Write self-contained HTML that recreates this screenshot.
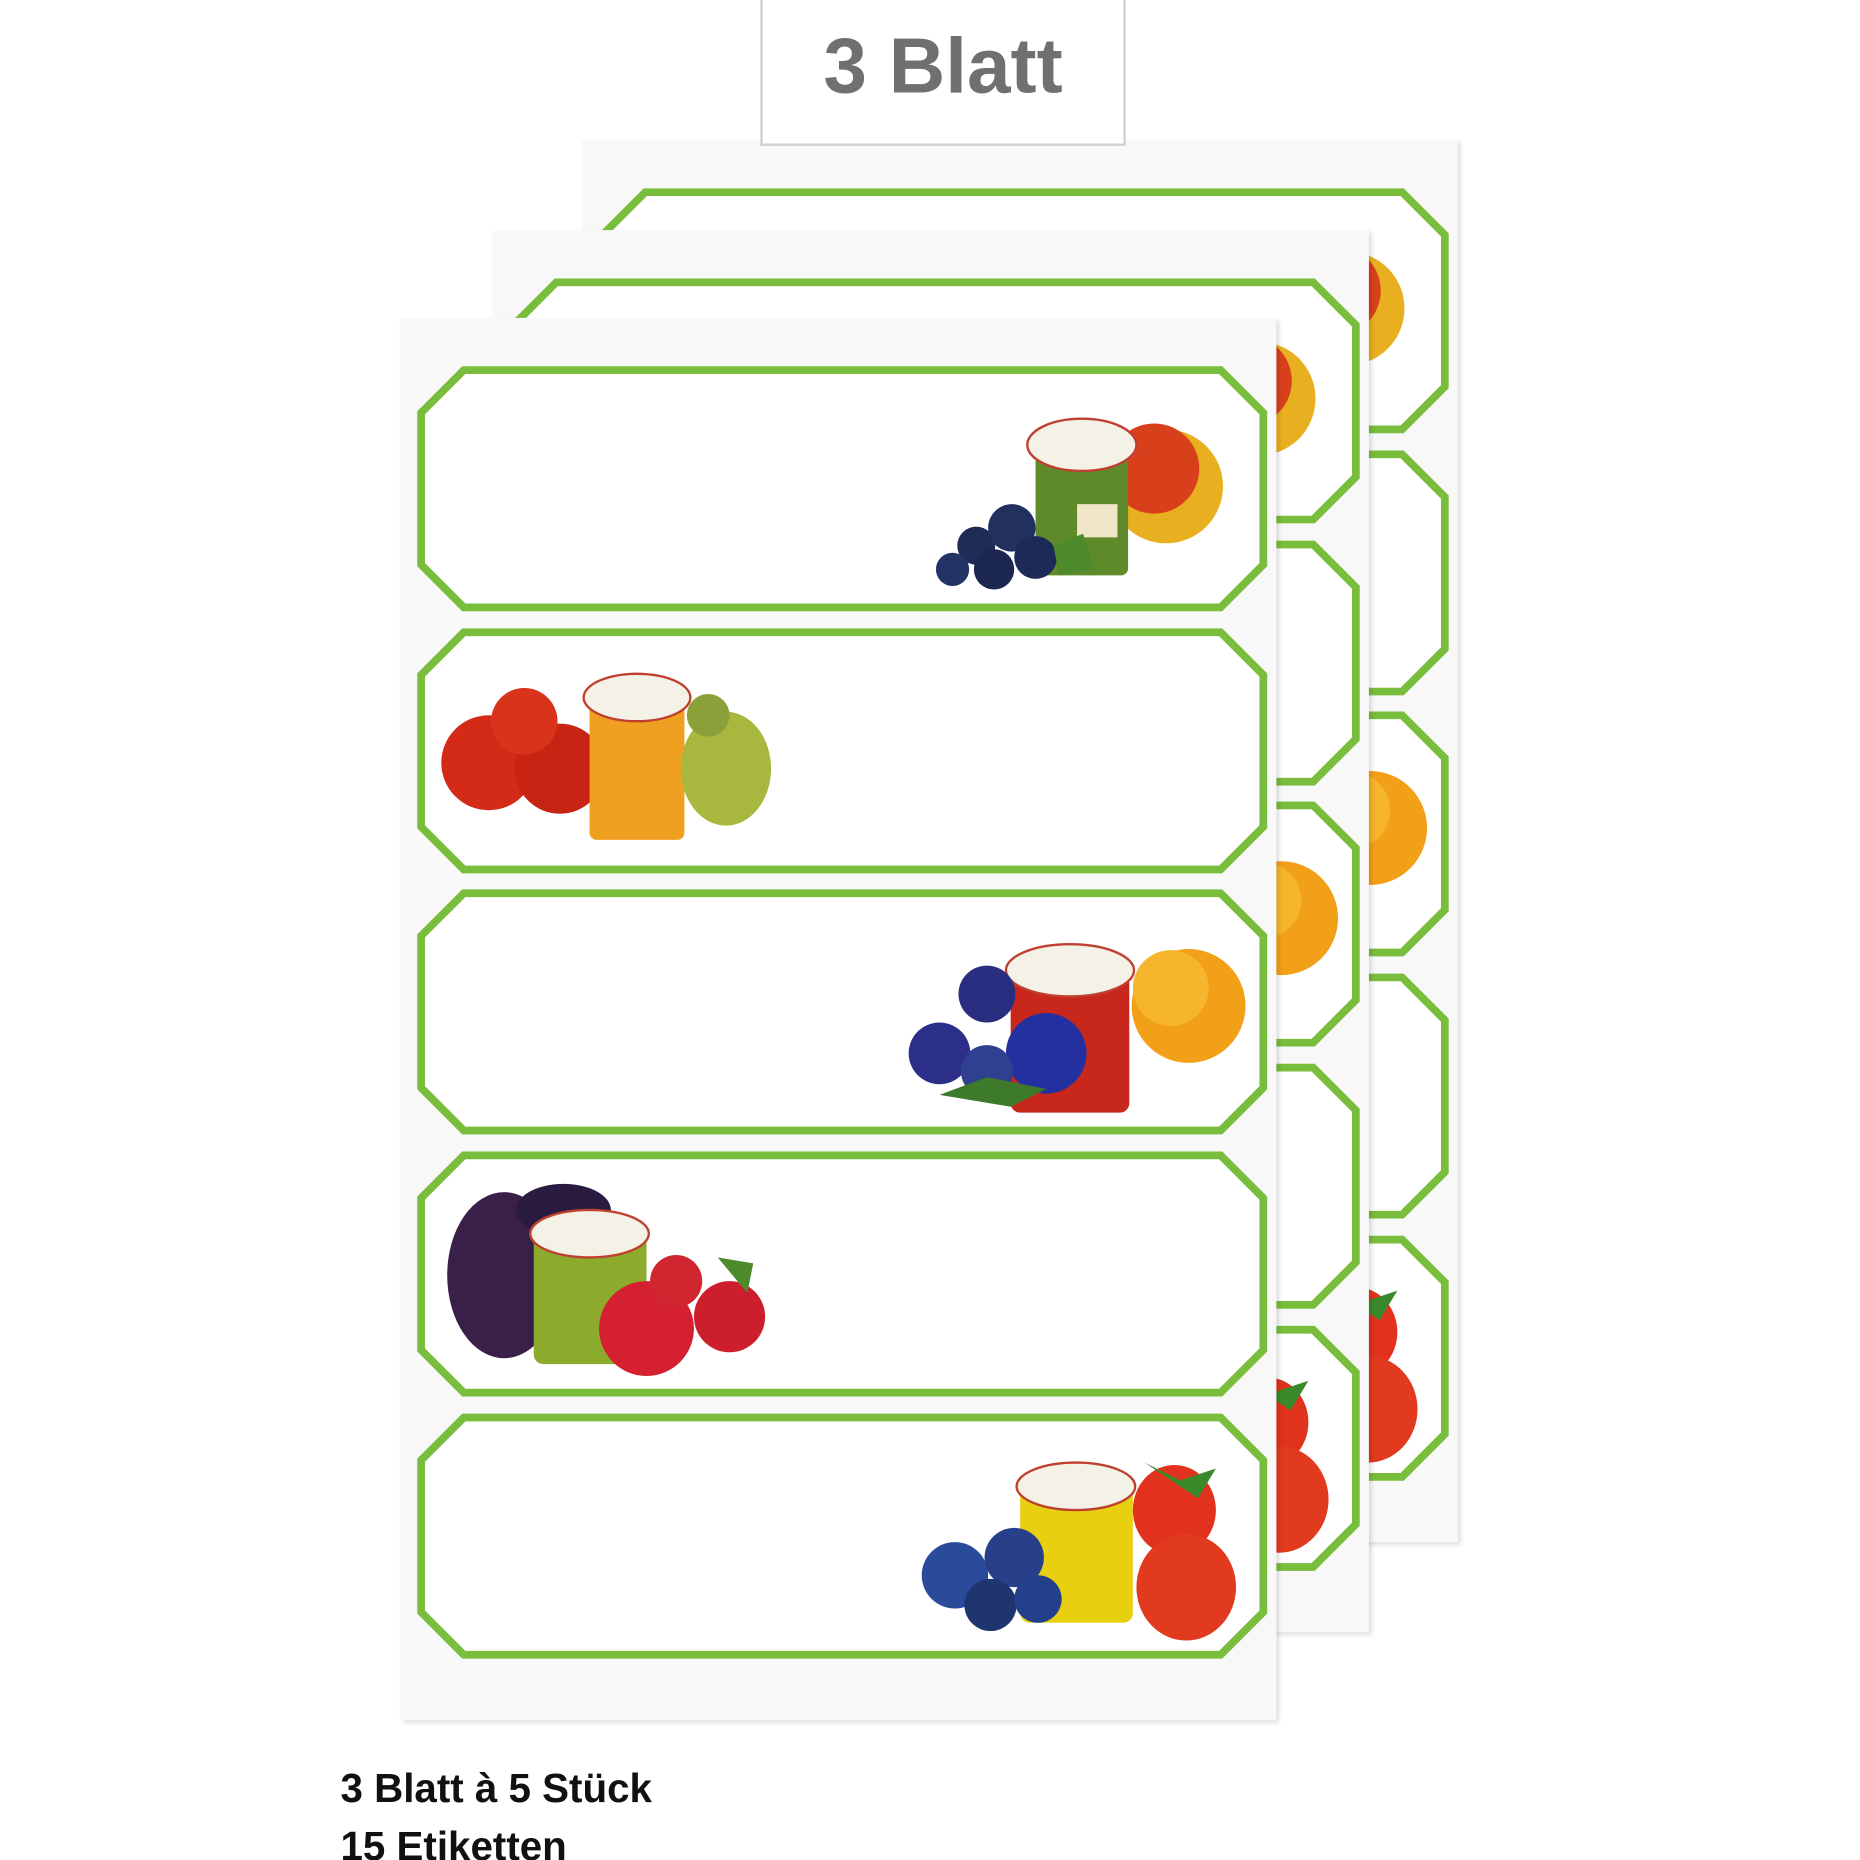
<!DOCTYPE html>
<html><head><meta charset="utf-8"><style>
html,body{margin:0;padding:0;background:#fff;width:1860px;height:1860px;overflow:hidden}
svg{display:block}
</style></head><body>
<svg width="1860" height="1860" viewBox="0 0 1568 1568" xmlns="http://www.w3.org/2000/svg">
<defs>
<filter id="sh" x="-5%" y="-5%" width="110%" height="110%"><feDropShadow dx="2" dy="2" stdDeviation="2" flood-color="#000" flood-opacity="0.15"/></filter>
<path id="oct" d="M36,0 L674,0 L710,36 L710,164 L674,200 L36,200 L0,164 L0,36 Z" fill="#fff" stroke="#79bd3c" stroke-width="6.5"/>
<g id="fA">
<circle cx="205" cy="80" r="48" fill="#e8b020"/><circle cx="195" cy="65" r="38" fill="#d8401c"/>
<rect x="95" y="45" width="78" height="110" rx="6" fill="#5f8a2a"/><ellipse cx="134" cy="45" rx="46" ry="22" fill="#f4f1e6" stroke="#c04030" stroke-width="2"/>
<rect x="130" y="95" width="34" height="28" fill="#f2e6c8"/>
<circle cx="45" cy="130" r="16" fill="#1d2b55"/><circle cx="75" cy="115" r="20" fill="#22305f"/><circle cx="60" cy="150" r="17" fill="#1b2750"/><circle cx="95" cy="140" r="18" fill="#1c2a58"/><circle cx="25" cy="150" r="14" fill="#233366"/>
<path d="M110,130 l25,-10 l10,30 l-30,5z" fill="#4c8a2c"/>
</g>
<g id="fB">
<circle cx="40" cy="85" r="40" fill="#d42a18"/><circle cx="100" cy="90" r="38" fill="#c82414"/><circle cx="70" cy="50" r="28" fill="#d8341c"/>
<rect x="125" y="30" width="80" height="120" rx="6" fill="#f0a020"/><ellipse cx="165" cy="30" rx="45" ry="20" fill="#f4f1e6" stroke="#c04030" stroke-width="2"/>
<ellipse cx="240" cy="90" rx="38" ry="48" fill="#a8b83e"/><circle cx="225" cy="45" r="18" fill="#8aa038"/>
</g>
<g id="fC">
<circle cx="240" cy="70" r="48" fill="#f1a018"/><circle cx="225" cy="55" r="32" fill="#f5b52c"/>
<rect x="90" y="40" width="100" height="120" rx="8" fill="#c8281c"/><ellipse cx="140" cy="40" rx="54" ry="22" fill="#f4f1e6" stroke="#c04030" stroke-width="2"/>
<circle cx="30" cy="110" r="26" fill="#2b2f8a"/><circle cx="70" cy="60" r="24" fill="#2a2e80"/><circle cx="120" cy="110" r="34" fill="#2530a0"/><circle cx="70" cy="125" r="22" fill="#304090"/>
<path d="M30,145 l40,-15 l50,10 l-30,15z" fill="#3e7a2c"/>
</g>
<g id="fD">
<ellipse cx="50" cy="85" rx="48" ry="70" fill="#3a1f48"/><ellipse cx="100" cy="30" rx="40" ry="22" fill="#2a1c40"/>
<rect x="75" y="50" width="95" height="110" rx="8" fill="#8caa2c"/><ellipse cx="122" cy="50" rx="50" ry="20" fill="#f4f1e6" stroke="#c04030" stroke-width="2"/>
<circle cx="170" cy="130" r="40" fill="#d42030"/><circle cx="240" cy="120" r="30" fill="#cc1e2c"/><circle cx="195" cy="90" r="22" fill="#d02630"/>
<path d="M230,70 l30,5 l-5,25 z" fill="#4c8a2c"/>
</g>
<g id="fE">
<rect x="85" y="30" width="95" height="115" rx="8" fill="#e8d010"/><ellipse cx="132" cy="30" rx="50" ry="20" fill="#f4f1e6" stroke="#c04030" stroke-width="2"/>
<circle cx="30" cy="105" r="28" fill="#2a4a9a"/><circle cx="80" cy="90" r="25" fill="#28408a"/><circle cx="60" cy="130" r="22" fill="#1e3570"/><circle cx="100" cy="125" r="20" fill="#24408a"/>
<ellipse cx="215" cy="50" rx="35" ry="38" fill="#e0321c"/><ellipse cx="225" cy="115" rx="42" ry="45" fill="#e23a1e"/>
<path d="M190,10 l30,15 l30,-10 l-15,25 z" fill="#3a8a2c"/>
</g>
<g id="sheet">
<rect x="0" y="0" width="738" height="1182" fill="#f8f8f8" filter="url(#sh)"/>
<use href="#oct" x="17" y="44"/><use href="#oct" x="17" y="265"/><use href="#oct" x="17" y="485"/><use href="#oct" x="17" y="706"/><use href="#oct" x="17" y="927"/>
<use href="#fA" x="440" y="62"/>
<use href="#fB" x="34" y="290"/>
<use href="#fC" x="424" y="510"/>
<use href="#fD" x="37" y="722"/>
<use href="#fE" x="437" y="955"/>
</g>
</defs>
<use href="#sheet" x="491" y="118"/>
<use href="#sheet" x="416" y="194"/>
<use href="#sheet" x="338" y="268"/>
<rect x="642" y="-2" width="306" height="124" fill="#fff" stroke="#cfcfcf" stroke-width="2"/>
<text x="795" y="78" text-anchor="middle" font-family="Liberation Sans, sans-serif" font-weight="bold" font-size="66" fill="#707070">3 Blatt</text>
<text x="287" y="1519" font-family="Liberation Sans, sans-serif" font-weight="bold" font-size="34" fill="#111">3 Blatt à 5 Stück</text>
<text x="287" y="1568" font-family="Liberation Sans, sans-serif" font-weight="bold" font-size="34" fill="#111">15 Etiketten</text>
</svg>
</body></html>
